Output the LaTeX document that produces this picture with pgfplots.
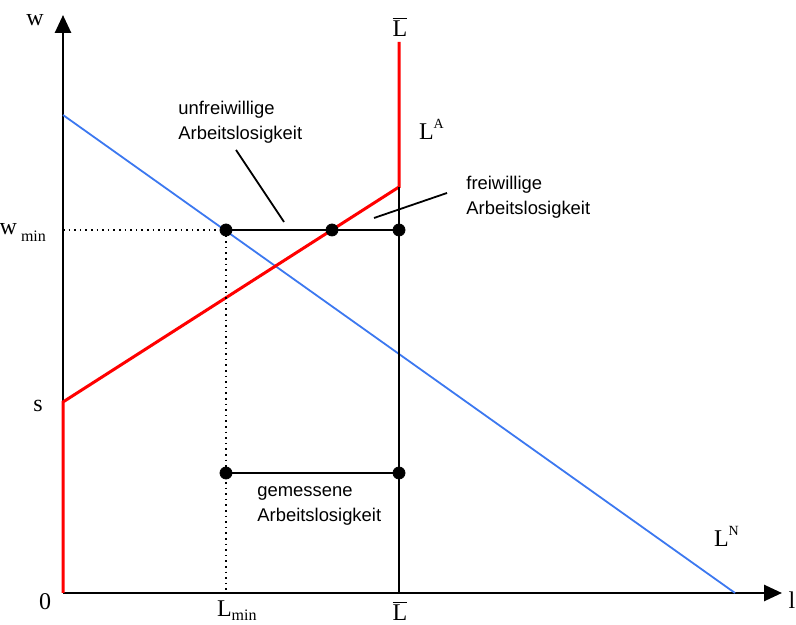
\documentclass[border=0pt]{standalone}
\usepackage{pgfplots}
\pgfplotsset{compat=1.18}
\usepackage{fontspec}
\setmainfont{Liberation Serif}
\newfontfamily\arial{Liberation Sans}
\usetikzlibrary{arrows.meta}
\begin{document}
\begin{tikzpicture}
\begin{axis}[
  scale only axis,
  width=398pt, height=312.5pt,
  xmin=-63, xmax=733, ymin=-32, ymax=593,
  axis lines=none,
  clip=false,
]
% axes
\addplot[black, line width=1.3pt, -{Triangle[length=9pt,width=8pt]}] coordinates {(0,0) (719,0)};
\addplot[black, line width=1.3pt, -{Triangle[length=9pt,width=8pt]}] coordinates {(0,0) (0,578)};
% labour demand L^N
\addplot[color={rgb,255:red,60;green,120;blue,240}, line width=0.9pt] coordinates {(0,478) (672,0)};
% labour supply L^A
\addplot[red, line width=1.5pt] coordinates {(0,0) (0,191) (336,406) (336,551)};
% Lbar vertical
\addplot[black, line width=1pt] coordinates {(336,0) (336,406)};
% w_min
\addplot[black, dotted, line width=0.8pt] coordinates {(0,363) (163,363)};
\addplot[black, dotted, line width=0.8pt] coordinates {(163,363) (163,0)};
\addplot[black, line width=1pt] coordinates {(163,363) (336,363)};
\addplot[black, line width=1pt] coordinates {(163,120) (336,120)};
% leaders
\addplot[black, line width=0.9pt] coordinates {(173,443) (221,371)};
\addplot[black, line width=0.9pt] coordinates {(311,375) (384,400)};
% points
\addplot[only marks, mark=*, mark size=3pt, black] coordinates {(163,363) (269,363) (336,363) (163,120) (336,120)};
% labels
\node[font=\fontsize{12}{14}\selectfont] at (axis cs:-28,573) {w};
\node[font=\fontsize{12}{14}\selectfont, anchor=base east] at (axis cs:-10,358) {w\,\raisebox{-0.6ex}{\fontsize{8}{9}\selectfont min}};
\node[font=\fontsize{12}{14}\selectfont] at (axis cs:-25,187) {s};
\node[font=\fontsize{12}{14}\selectfont] at (axis cs:-18,-9) {0};
\node[font=\fontsize{12}{14}\selectfont, anchor=base west] at (axis cs:147,-23) {L\raisebox{-0.45ex}{\fontsize{8}{9}\selectfont min}};
\node[font=\fontsize{12}{14}\selectfont, anchor=base] at (axis cs:337,-28) {$\overline{\mbox{L}}$};
\node[font=\fontsize{12}{14}\selectfont, anchor=base] at (axis cs:337,556) {$\overline{\mbox{L}}$};
\node[font=\fontsize{12}{14}\selectfont, anchor=base] at (axis cs:729,-16) {l};
\node[font=\fontsize{12}{14}\selectfont, anchor=base west] at (axis cs:349,453) {L\raisebox{1.0ex}{\fontsize{7}{8}\selectfont A}};
\node[font=\fontsize{12}{14}\selectfont, anchor=base west] at (axis cs:644,46) {L\raisebox{1.0ex}{\fontsize{7}{8}\selectfont N}};
\node[font=\arial\fontsize{9.2}{12.5}\selectfont, anchor=north west, align=left, inner sep=0pt] at (axis cs:115,492) {unfreiwillige\\Arbeitslosigkeit};
\node[font=\arial\fontsize{9.2}{12.5}\selectfont, anchor=north west, align=left, inner sep=0pt] at (axis cs:403,417) {freiwillige\\Arbeitslosigkeit};
\node[font=\arial\fontsize{9.2}{12.5}\selectfont, anchor=north west, align=left, inner sep=0pt] at (axis cs:194,107) {gemessene\\Arbeitslosigkeit};
\end{axis}
\pgfresetboundingbox
\path (current axis.south west) rectangle (current axis.north east);
\end{tikzpicture}
\end{document}
